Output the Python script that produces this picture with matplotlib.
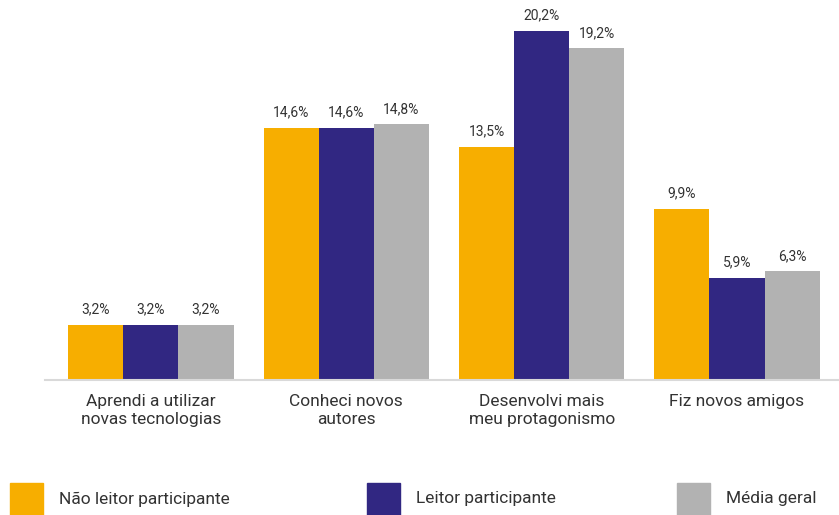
import numpy as np
from matplotlib import pyplot as plt
from matplotlib.patches import Rectangle

plt.rcParams['font.family'] = ['Roboto', 'DejaVu Sans']

categorias = ['Aprendi a utilizar\nnovas tecnologias', 'Conheci novos\nautores',
              'Desenvolvi mais\nmeu protagonismo', 'Fiz novos amigos']
series = ['Não leitor participante', 'Leitor participante', 'Média geral']
valores = [
    [3.2, 14.6, 13.5, 9.9],
    [3.2, 14.6, 20.2, 5.9],
    [3.2, 14.8, 19.2, 6.3],
]
cores = ['#F7AE00', '#312782', '#B2B2B2']


# グラフの枠組み
# ########################################

fig = plt.figure(figsize=(8.39, 5.15), dpi=100)
ax = fig.add_axes([45/839, 135/515, 1 - 45/839, 380/515])

x = np.arange(len(categorias))
w = 0.282

for i, (nome, vals, cor) in enumerate(zip(series, valores, cores)):
    pos = x + (i - 1) * w
    bars = ax.bar(pos, vals, width=w, color=cor, label=nome)
    for b, v in zip(bars, vals):
        ax.annotate(f'{v:.1f}'.replace('.', ',') + '%',
                    (b.get_x() + b.get_width() / 2, v),
                    xytext=(0, 6), textcoords='offset points',
                    ha='center', va='bottom', fontsize=10, color='#333333')

ax.set_xlim(-0.542, 3.522)
ax.set_ylim(0, 22)

for s in ['top', 'right', 'left']:
    ax.spines[s].set_visible(False)
ax.spines['bottom'].set_color('#D9D9D9')
ax.spines['bottom'].set_linewidth(1.5)
ax.set_yticks([])
ax.set_xticks(x)
ax.set_xticklabels(categorias, fontsize=12.5, color='#333333', linespacing=1.3)
ax.tick_params(axis='x', length=0, pad=10)


# 凡例
# ########################################

leg_x = [10, 367, 677]
for lx, nome, cor in zip(leg_x, series, cores):
    fig.patches.append(Rectangle((lx / 839, 0), 33 / 839, 32 / 515,
                                 transform=fig.transFigure, color=cor))
    fig.text((lx + 49) / 839, 16 / 515, nome, fontsize=12.5,
             color='#333333', va='center', ha='left')

fig.savefig('out.png', dpi=100)
